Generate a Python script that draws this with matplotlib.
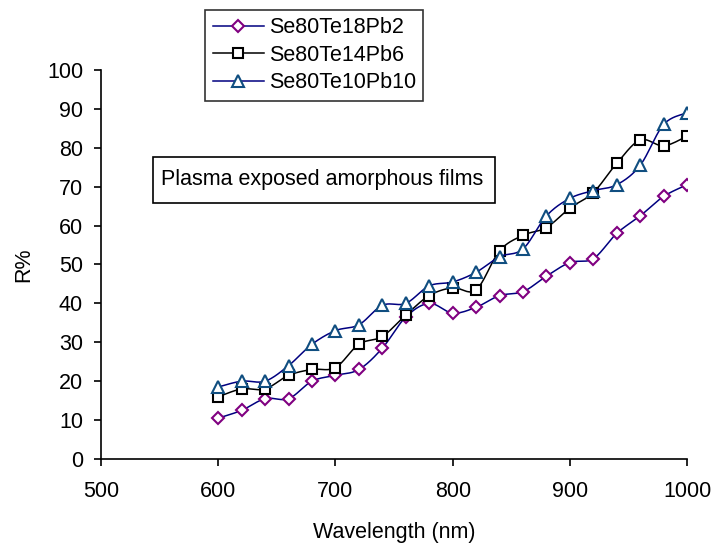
import numpy as np
import matplotlib
matplotlib.use('Agg')
import matplotlib.pyplot as plt
from matplotlib.patches import Rectangle

plt.rcParams['font.family'] = ['Liberation Sans', 'DejaVu Sans']

wavelength = [600, 620, 640, 660, 680, 700, 720, 740, 760, 780, 800,
              820, 840, 860, 880, 900, 920, 940, 960, 980, 1000]
r_pb2 = [10.5, 12.5, 15.5, 15.5, 20, 21.5, 23, 28.5, 36.5, 40, 37.5,
         39, 42, 43, 47, 50.5, 51.5, 58, 62.5, 67.5, 70.5]
r_pb6 = [16, 18, 18, 21.5, 23, 23.5, 29.5, 31.5, 37, 42, 44,
         43.5, 53.5, 57.5, 59.5, 64.5, 68.5, 76, 82, 80.5, 83]
r_pb10 = [18.5, 20, 20, 24, 29.5, 33, 34.5, 39.5, 40, 44.5, 45.5,
          48, 52, 54, 62.5, 67, 69, 70.5, 75.5, 86, 89]

FS = 15.5


def smooth(x, y, n=20):
    # Catmull-Rom style smoothing, like Excel's smoothed line
    x = np.asarray(x, float)
    y = np.asarray(y, float)
    px = np.concatenate([[x[0]], x, [x[-1]]])
    py = np.concatenate([[y[0]], y, [y[-1]]])
    xs, ys = [], []
    t = np.linspace(0, 1, n, endpoint=False)
    for i in range(1, len(px) - 2):
        p0, p1, p2, p3 = (np.array([px[j], py[j]]) for j in (i - 1, i, i + 1, i + 2))
        c1 = p1 + (p2 - p0) / 6
        c2 = p2 - (p3 - p1) / 6
        b = ((1 - t) ** 3)[:, None] * p1 + (3 * (1 - t) ** 2 * t)[:, None] * c1 \
            + (3 * (1 - t) * t ** 2)[:, None] * c2 + (t ** 3)[:, None] * p2
        xs.extend(b[:, 0])
        ys.extend(b[:, 1])
    xs.append(x[-1])
    ys.append(y[-1])
    return xs, ys


fig = plt.figure(figsize=(7.12, 5.47), dpi=100)
ax = fig.add_axes([0.142, 0.161, 0.823, 0.711])

series = [
    (r_pb2, 'Se80Te18Pb2', '#000080', 'D', '#800080', 6.5),
    (r_pb6, 'Se80Te14Pb6', 'black', 's', 'black', 7.5),
    (r_pb10, 'Se80Te10Pb10', '#000080', '^', '#104E80', 8.5),
]
handles = []
for vals, name, lc, mk, mc, ms in series:
    sx, sy = smooth(wavelength, vals)
    ax.plot(sx, sy, color=lc, lw=1.1)
    ax.plot(wavelength, vals, ls='none', marker=mk, ms=ms, mfc='white',
            mec=mc, mew=1.5)
    h, = ax.plot([], [], color=lc, lw=1.1, marker=mk, ms=ms, mfc='white',
                 mec=mc, mew=1.5, label=name)
    handles.append(h)

ax.set_xlim(500, 1000)
ax.set_ylim(0, 100)
ax.set_xticks(range(500, 1001, 100))
ax.set_yticks(range(0, 101, 10))
for s in ('top', 'right'):
    ax.spines[s].set_visible(False)
for s in ('left', 'bottom'):
    ax.spines[s].set_linewidth(1.2)
ax.tick_params(direction='out', length=5, width=1.2, labelsize=FS)
ax.tick_params(axis='x', pad=11)
ax.tick_params(axis='y', pad=8)
ax.set_xlabel('Wavelength (nm)', fontsize=FS, labelpad=14)
ax.set_ylabel('R%', fontsize=FS, labelpad=9)

leg = fig.legend(handles=handles, loc='upper left', bbox_to_anchor=(0.288, 0.982),
                 fontsize=FS, frameon=True, fancybox=False, edgecolor='black',
                 handlelength=2.4, borderpad=0.35, labelspacing=0.3,
                 handletextpad=0.2, borderaxespad=0)
leg.get_frame().set_linewidth(1.2)

# annotation box
fig.patches.append(Rectangle((153 / 712, 1 - 203 / 547), 342 / 712, 46 / 547,
                             transform=fig.transFigure, fc='white', ec='black',
                             lw=1.2, zorder=5))
fig.text(161 / 712, 1 - 180 / 547, 'Plasma exposed amorphous films',
         fontsize=FS, va='center', ha='left', zorder=6)

fig.savefig('out.png', dpi=100)
